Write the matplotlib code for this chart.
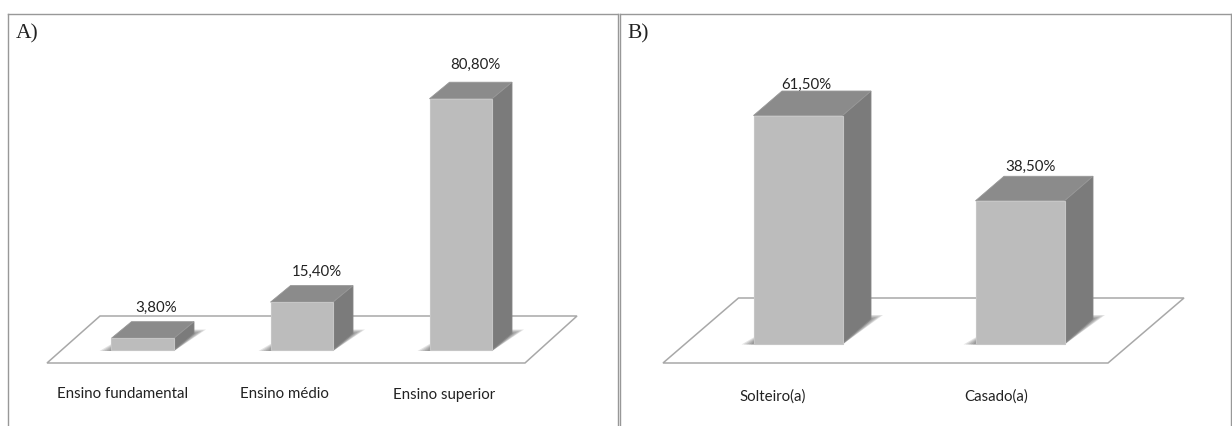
import matplotlib
matplotlib.use("Agg")
import matplotlib.pyplot as plt
from matplotlib.patches import Polygon

W, H = 1232, 426

# panel A
cats_a = ["Ensino fundamental", "Ensino médio", "Ensino superior"]
vals_a = [3.8, 15.4, 80.8]
labels_a = ["3,80%", "15,40%", "80,80%"]
# panel B
cats_b = ["Solteiro(a)", "Casado(a)"]
vals_b = [61.5, 38.5]
labels_b = ["61,50%", "38,50%"]

FRONT = "#bcbcbc"
TOP = "#8b8b8b"
SIDE = "#7b7b7b"
LINE = "#a8a8a8"
FONT = ["Lato", "DejaVu Sans"]


def draw_panel(rect, letter, cats, vals, labels, geom):
    """3D-looking column chart, rect = (left, top, right, bottom) in pixels."""
    l, t, r, b = rect
    ax = fig.add_axes([l / W, 1 - b / H, (r - l) / W, (b - t) / H])
    sx, sy = geom["step"], geom["unit"]
    x0, base = geom["x0"], geom["base"]
    ax.set_xlim((l - x0) / sx, (r - x0) / sx)
    ax.set_ylim((base - b) / sy, (base - t) / sy)
    ax.set_xticks([])
    ax.set_yticks([])
    for s in ax.spines.values():
        s.set_color("#989898")
        s.set_linewidth(1.0)
    ax.spines["bottom"].set_visible(False)

    # floor parallelogram, given in pixels
    to_data = lambda p: ((p[0] - x0) / sx, (base - p[1]) / sy)
    ax.add_patch(Polygon([to_data(p) for p in geom["floor"]], closed=True,
                         fc="white", ec=LINE, lw=1.1, zorder=1))

    hw = geom["width"] / sx / 2
    dx, dy = geom["dx"] / sx, geom["dy"] / sy
    for i, v in enumerate(vals):
        # soft shadow around the foot of the column, darkest next to it
        for k in range(1, 6):
            gx = k * 2.4 / sx
            ax.add_patch(Polygon([(i - hw - gx, -1 / sy), (i + hw, -1 / sy),
                                  (i + hw + dx + gx, dy + k * 0.8 / sy),
                                  (i + hw, dy + k * 0.8 / sy),
                                  (i - hw, (k + 1) / sy)],
                                 closed=True, fc="#555555", ec="none",
                                 alpha=0.16, zorder=2))
        ax.add_patch(Polygon([(i - hw, 0), (i + hw, 0), (i + hw, v), (i - hw, v)],
                             closed=True, fc=FRONT, ec="#c6c6c6", lw=0.8, zorder=4))
        ax.add_patch(Polygon([(i + hw, 0), (i + hw + dx, dy), (i + hw + dx, v + dy),
                              (i + hw, v)],
                             closed=True, fc=SIDE, ec="#858585", lw=0.6, zorder=3))
        ax.add_patch(Polygon([(i - hw, v), (i + hw, v), (i + hw + dx, v + dy),
                              (i - hw + dx, v + dy)],
                             closed=True, fc=TOP, ec="#979797", lw=0.6, zorder=3))
        ax.text(i + geom["val_dx"][i] / sx, v + geom["val_dy"][i] / sy, labels[i],
                ha="center", va="center", fontsize=10.8, family=FONT,
                color="#222222", zorder=5)
        ax.text(i + geom["cat_dx"][i] / sx, (base - geom["cat_y"]) / sy, cats[i],
                ha="center", va="center", fontsize=10.8, family=FONT, color="#222222")

    ax.text(geom["let_x"], 1 - 20 / (b - t), letter, transform=ax.transAxes,
            ha="left", va="center", fontsize=15.5,
            family=["Liberation Serif", "DejaVu Serif"], color="#222222")


fig = plt.figure(figsize=(W / 100, H / 100), dpi=100)

draw_panel((8, 14, 618, 426), "A)", cats_a, vals_a, labels_a, dict(
    x0=142.75, step=159, unit=3.11, base=350, width=62.5, dx=20, dy=16.5,
    floor=[(100, 316), (577, 316), (525, 363), (47, 363)],
    val_dx=[13, 15, 15], val_dy=[30, 30, 34],
    cat_dx=[-20, -17, -17], cat_y=394.5, let_x=0.012))

draw_panel((620, 14, 1231, 426), "B)", cats_b, vals_b, labels_b, dict(
    x0=798, step=222, unit=3.707, base=343.5, width=89, dx=28.5, dy=24.5,
    floor=[(738.5, 298), (1184, 298), (1108, 363), (663, 363)],
    val_dx=[8, 11], val_dy=[31, 34],
    cat_dx=[-25, -24], cat_y=396.5, let_x=0.012))

fig.savefig("out.png", dpi=100)
